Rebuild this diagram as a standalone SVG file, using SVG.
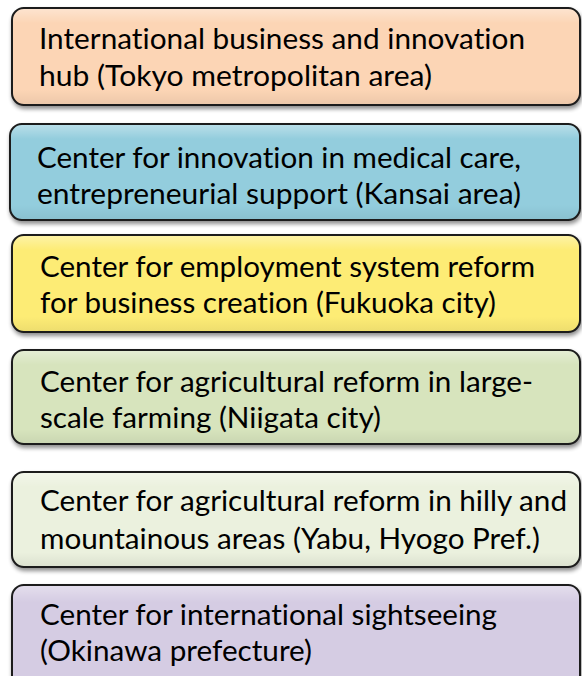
<svg xmlns="http://www.w3.org/2000/svg" width="582" height="676" viewBox="0 0 582 676">
<style>
.box{stroke:#1a1a1a;stroke-width:2}
.t{font-family:Lato,"Open Sans","Noto Sans",sans-serif;font-size:28.5px;fill:#000;font-variant-ligatures:none}
</style>
<defs>
<filter id="sh" x="-5%" y="-10%" width="115%" height="130%">
<feGaussianBlur in="SourceAlpha" stdDeviation="2"/>
<feOffset dx="1" dy="3" result="b"/>
<feComponentTransfer><feFuncA type="linear" slope="0.45"/></feComponentTransfer>
<feMerge><feMergeNode/><feMergeNode in="SourceGraphic"/></feMerge>
</filter>
<linearGradient id="gl" x1="0" y1="0" x2="0" y2="1">
<stop offset="0" stop-color="#fff" stop-opacity="0.35"/>
<stop offset="0.15" stop-color="#fff" stop-opacity="0"/>
<stop offset="0.85" stop-color="#000" stop-opacity="0"/>
<stop offset="1" stop-color="#000" stop-opacity="0.06"/>
</linearGradient>
</defs>
<g id="n1">
<rect class="box" x="12" y="8" width="568" height="97" rx="12" fill="#FCD5B5" filter="url(#sh)"/>
<rect x="13" y="9" width="566" height="95" rx="11" fill="url(#gl)"/>
<text class="t" x="39" y="49" textLength="486" lengthAdjust="spacingAndGlyphs">International business and innovation</text>
<text class="t" x="39" y="86" textLength="393" lengthAdjust="spacingAndGlyphs">hub (Tokyo metropolitan area)</text>
</g>
<g id="n2">
<rect class="box" x="10" y="124" width="570" height="96" rx="12" fill="#93CDDD" filter="url(#sh)"/>
<rect x="11" y="125" width="568" height="94" rx="11" fill="url(#gl)"/>
<text class="t" x="37" y="168" textLength="484" lengthAdjust="spacingAndGlyphs">Center for innovation in medical care,</text>
<text class="t" x="37" y="204" textLength="484" lengthAdjust="spacingAndGlyphs">entrepreneurial support (Kansai area)</text>
</g>
<g id="n3">
<rect class="box" x="12" y="235" width="568" height="97" rx="12" fill="#FDEC74" filter="url(#sh)"/>
<rect x="13" y="236" width="566" height="95" rx="11" fill="url(#gl)"/>
<text class="t" x="40" y="277" textLength="495" lengthAdjust="spacingAndGlyphs">Center for employment system reform</text>
<text class="t" x="40" y="313" textLength="456" lengthAdjust="spacingAndGlyphs">for business creation (Fukuoka city)</text>
</g>
<g id="n4">
<rect class="box" x="12" y="350" width="568" height="94" rx="12" fill="#D7E4BD" filter="url(#sh)"/>
<rect x="13" y="351" width="566" height="92" rx="11" fill="url(#gl)"/>
<text class="t" x="40" y="392" textLength="493" lengthAdjust="spacingAndGlyphs">Center for agricultural reform in large-</text>
<text class="t" x="40" y="428" textLength="341" lengthAdjust="spacingAndGlyphs">scale farming (Niigata city)</text>
</g>
<g id="n5">
<rect class="box" x="12" y="472" width="568" height="95" rx="12" fill="#EBF1DE" filter="url(#sh)"/>
<rect x="13" y="473" width="566" height="93" rx="11" fill="url(#gl)"/>
<text class="t" x="40" y="511" textLength="527" lengthAdjust="spacingAndGlyphs">Center for agricultural reform in hilly and</text>
<text class="t" x="40" y="549" textLength="500" lengthAdjust="spacingAndGlyphs">mountainous areas (Yabu, Hyogo Pref.)</text>
</g>
<g id="n6">
<rect class="box" x="12" y="585" width="568" height="110" rx="12" fill="#D5CCE3" filter="url(#sh)"/>
<rect x="13" y="586" width="566" height="108" rx="11" fill="url(#gl)"/>
<text class="t" x="40" y="625" textLength="457" lengthAdjust="spacingAndGlyphs">Center for international sightseeing</text>
<text class="t" x="40" y="661" textLength="272" lengthAdjust="spacingAndGlyphs">(Okinawa prefecture)</text>
</g>
<g id="connectors"/>
</svg>
